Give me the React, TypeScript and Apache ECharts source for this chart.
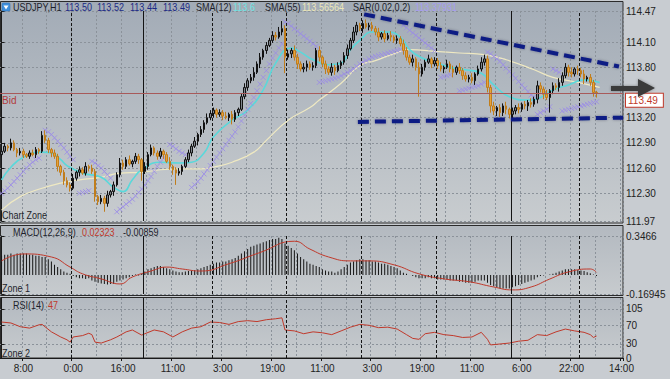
import React, { useEffect, useRef } from 'react';
import * as echarts from 'echarts';

const FONT = "'Liberation Sans', 'DejaVu Sans', Arial, sans-serif";
const SLOTS = 200;
const LABEL_START = 7;
const LABEL_STEP = 16;
const GRID_STEP = 8;

const timeLabels = ['8:00', '0:00', '16:00', '11:00', '3:00', '19:00', '11:00', '3:00', '19:00', '11:00', '6:00', '22:00', '14:00'];

const firstOpen = 112.76;
const closes = [
  112.80, 112.86, 112.84, 112.90, 112.82, 112.78, 112.80, 112.76, 112.74, 112.78,
  112.76, 112.82, 112.80, 112.99, 112.93, 112.82, 112.78, 112.74, 112.62, 112.55,
  112.45, 112.40, 112.36, 112.48, 112.55, 112.58, 112.54, 112.62, 112.60, 112.56,
  112.26, 112.20, 112.24, 112.18, 112.28, 112.32, 112.40, 112.52, 112.66, 112.62,
  112.70, 112.65, 112.68, 112.74, 112.70, 112.56, 112.62, 112.76, 112.84, 112.78,
  112.74, 112.80, 112.76, 112.68, 112.62, 112.58, 112.54, 112.56, 112.62, 112.70,
  112.78, 112.86, 112.92, 113.00, 113.06, 113.14, 113.20, 113.25, 113.29, 113.24,
  113.26, 113.22, 113.20, 113.24, 113.18, 113.26, 113.30, 113.45, 113.56, 113.64,
  113.68, 113.74, 113.84, 113.92, 114.00, 114.06, 114.12, 114.18, 114.16, 114.22,
  114.26, 113.92, 113.96, 114.00, 113.92, 113.84, 113.78, 113.80, 113.84, 113.80,
  113.82, 114.00, 113.92, 113.84, 113.78, 113.74, 113.80, 113.76, 113.82, 113.86,
  113.94, 114.02, 114.12, 114.22, 114.30, 114.26, 114.32, 114.28, 114.30, 114.26,
  114.22, 114.16, 114.20, 114.14, 114.18, 114.16, 114.12, 114.14, 114.08, 114.00,
  113.92, 113.86, 113.90, 113.80, 113.72, 113.80, 113.86, 113.90, 113.84, 113.88,
  113.82, 113.78, 113.80, 113.84, 113.78, 113.74, 113.80, 113.76, 113.70, 113.66,
  113.68, 113.64, 113.72, 113.78, 113.86, 113.90, 113.56, 113.34, 113.28, 113.32,
  113.26, 113.34, 113.30, 113.24, 113.28, 113.32, 113.30, 113.36, 113.34, 113.38,
  113.36, 113.42, 113.58, 113.54, 113.48, 113.44, 113.52, 113.58, 113.56, 113.62,
  113.70, 113.80, 113.74, 113.72, 113.78, 113.76, 113.72, 113.66, 113.68, 113.62,
  113.50, 113.49,
];
// wick sizes in pips (0.01)
const wickUp = [
  3, 4, 2, 5, 3, 2, 4, 3, 2, 3,
  4, 3, 2, 5, 6, 3, 2, 4, 3, 2,
  3, 4, 3, 5, 2, 4, 3, 5, 2, 4,
  3, 2, 4, 3, 5, 2, 4, 3, 6, 4,
  3, 5, 2, 4, 3, 2, 5, 3, 4, 2,
  3, 4, 2, 3, 5, 2, 3, 4, 2, 3,
  4, 3, 5, 2, 4, 3, 5, 4, 3, 2,
  4, 3, 5, 2, 4, 3, 2, 4, 5, 3,
  4, 6, 3, 5, 2, 4, 3, 5, 4, 6,
  9, 4, 5, 3, 6, 4, 3, 5, 4, 3,
  4, 3, 5, 2, 4, 3, 5, 3, 4, 2,
  4, 5, 3, 6, 4, 3, 4, 5, 3, 4,
  3, 5, 2, 4, 3, 5, 2, 4, 3, 5,
  4, 3, 5, 2, 6, 4, 3, 5, 2, 4,
  3, 4, 2, 5, 3, 4, 2, 5, 3, 4,
  3, 5, 2, 4, 6, 5, 4, 3, 5, 2,
  4, 3, 5, 2, 4, 3, 5, 2, 4, 3,
  5, 3, 6, 4, 3, 5, 2, 4, 3, 5,
  4, 5, 3, 6, 2, 4, 3, 5, 2, 4,
  3, 2,
];
const wickDown = [
  3, 2, 4, 3, 2, 5, 3, 4, 2, 3,
  2, 4, 3, 2, 3, 4, 5, 3, 6, 4,
  5, 3, 4, 2, 3, 5, 2, 3, 4, 3,
  6, 4, 3, 10, 4, 3, 5, 2, 3, 4,
  3, 2, 4, 3, 5, 11, 3, 4, 2, 3,
  4, 3, 5, 2, 4, 6, 14, 3, 4, 2,
  3, 4, 2, 5, 3, 4, 2, 3, 5, 4,
  3, 5, 2, 4, 6, 3, 4, 2, 3, 4,
  3, 4, 2, 5, 3, 4, 2, 3, 4, 2,
  4, 19, 3, 5, 4, 6, 3, 4, 5, 3,
  4, 3, 5, 4, 6, 3, 4, 5, 2, 4,
  3, 4, 2, 3, 4, 3, 5, 2, 4, 3,
  4, 5, 3, 4, 2, 5, 3, 4, 3, 5,
  4, 3, 5, 4, 27, 3, 4, 2, 5, 3,
  4, 3, 5, 2, 4, 6, 3, 4, 5, 3,
  4, 3, 5, 2, 3, 4, 6, 8, 5, 6,
  5, 4, 6, 5, 7, 4, 5, 3, 4, 6,
  4, 3, 5, 4, 6, 3, 18, 4, 3, 5,
  4, 3, 5, 4, 3, 5, 4, 6, 3, 4,
  5, 5,
];

const sma12 = [
  [0, 112.46], [3, 112.61], [7, 112.73], [13, 112.79], [16, 112.78], [19, 112.70], [21, 112.63], [26, 112.54],
  [32, 112.49], [36, 112.37], [39, 112.32], [42, 112.46], [45, 112.58], [51, 112.67], [57, 112.66], [61, 112.67],
  [65, 112.78], [68, 112.97], [74, 113.17], [79, 113.29], [84, 113.53], [88, 113.85], [93, 114.03], [96, 113.98],
  [100, 113.89], [105, 113.83], [109, 113.85], [112, 114.01], [115, 114.12], [119, 114.22], [124, 114.22],
  [128, 114.16], [131, 114.01], [135, 113.91], [140, 113.85], [144, 113.80], [149, 113.77], [154, 113.73],
  [158, 113.59], [163, 113.45], [169, 113.41], [173, 113.44], [177, 113.53], [182, 113.59], [187, 113.65], [192, 113.62],
];
const sma55 = [
  [0, 112.10], [6, 112.26], [13, 112.36], [19, 112.42], [25, 112.46], [32, 112.49], [38, 112.54], [45, 112.55],
  [51, 112.58], [57, 112.59], [64, 112.59], [68, 112.61], [74, 112.67], [81, 112.79], [85, 112.93], [92, 113.17],
  [99, 113.32], [102, 113.41], [109, 113.61], [115, 113.82], [120, 113.88], [126, 113.96], [131, 114.01],
  [139, 113.99], [147, 113.97], [155, 113.95], [162, 113.89], [171, 113.77], [177, 113.68], [185, 113.62], [192, 113.56],
];
// parabolic SAR: [first bar index, values per bar]
const sarSegments: [number, number[]][] = [
  [0, [112.30, 112.33, 112.36, 112.40, 112.44, 112.48, 112.52, 112.56, 112.60, 112.64, 112.67, 112.70, 112.72]],
  [14, [113.05, 113.03, 113.00, 112.96, 112.92, 112.88, 112.84, 112.79, 112.74, 112.70]],
  [25, [112.30, 112.31, 112.32, 112.33]],
  [29, [112.68, 112.66, 112.63, 112.60, 112.56, 112.52, 112.48]],
  [37, [112.08, 112.11, 112.14, 112.17, 112.20, 112.23, 112.27, 112.31, 112.35, 112.40, 112.45, 112.50, 112.56, 112.62, 112.67, 112.72]],
  [54, [112.88, 112.86, 112.83, 112.80, 112.78, 112.76]],
  [61, [112.37, 112.40, 112.44, 112.48, 112.53, 112.58, 112.63, 112.68, 112.73, 112.78, 112.83, 112.88, 112.93, 112.98, 113.03,
    113.09, 113.16, 113.23, 113.30, 113.37, 113.44, 113.52, 113.60, 113.68, 113.76, 113.84, 113.91, 113.97, 114.03, 114.08]],
  [91, [114.34, 114.32, 114.29, 114.26, 114.23, 114.20, 114.17, 114.14, 114.11, 114.08, 114.05]],
  [102, [113.62, 113.63, 113.64, 113.65, 113.66, 113.67, 113.68, 113.70, 113.72, 113.74, 113.76, 113.78, 113.81, 113.84,
    113.86, 113.88, 113.90, 113.92, 113.93, 113.94, 113.95, 113.96, 113.97, 113.98, 113.99, 114.00, 114.01]],
  [129, [114.30, 114.27, 114.24, 114.21, 114.18, 114.15, 114.12, 114.09, 114.06, 114.03, 114.00]],
  [141, [113.68, 113.69, 113.70, 113.71]],
  [147, [113.52, 113.53, 113.54, 113.55, 113.56, 113.57, 113.58, 113.60, 113.62]],
  [156, [113.98, 113.96, 113.93, 113.90, 113.87, 113.83, 113.79, 113.75, 113.71, 113.67, 113.63, 113.59, 113.55, 113.51, 113.47, 113.45]],
  [172, [113.24, 113.26, 113.28, 113.30, 113.33]],
  [177, [113.78, 113.76, 113.74]],
  [180, [113.28, 113.29, 113.30, 113.31, 113.32, 113.33, 113.34, 113.35, 113.36, 113.37, 113.38, 113.39]],
];

const macdHist = [
  0.17, 0.18, 0.18, 0.19, 0.18, 0.19, 0.19, 0.19, 0.19, 0.18, 0.18,
  0.17, 0.17, 0.16, 0.16, 0.14, 0.12, 0.09, 0.07, 0.05, 0.03, 0.02, 0.01,
  -0.01, -0.02, -0.03, -0.03, -0.035, -0.03, -0.05, -0.06, -0.07, -0.075,
  -0.08, -0.085, -0.08, -0.08, -0.06, -0.05, -0.04, -0.03, -0.02, -0.01,
  0.005, -0.005, 0.01, 0.03, 0.05, 0.06, 0.07, 0.08, 0.08, 0.07, 0.06,
  0.05, 0.04, 0.03, 0.025, 0.025, 0.03, 0.035, 0.04, 0.045, 0.05, 0.06, 0.07,
  0.08, 0.09, 0.10, 0.11, 0.11, 0.12, 0.12, 0.13, 0.14, 0.15, 0.17, 0.19,
  0.21, 0.23, 0.25, 0.26, 0.27, 0.28, 0.29, 0.30, 0.31, 0.32, 0.32, 0.33, 0.32,
  0.28, 0.26, 0.24, 0.22, 0.19, 0.16, 0.14, 0.12, 0.10, 0.09, 0.08, 0.07,
  0.05, 0.04, 0.03, 0.03, 0.02, 0.03, 0.05, 0.07, 0.09, 0.11, 0.12, 0.13,
  0.14, 0.14, 0.13, 0.13, 0.12, 0.12, 0.11, 0.10, 0.10, 0.09, 0.08, 0.07,
  0.06, 0.04, 0.02, 0.01, 0.0, -0.01, -0.02, -0.03, -0.03, -0.03, -0.02, -0.03,
  -0.03, -0.04, -0.04, -0.04, -0.04, -0.05, -0.05, -0.05, -0.06, -0.06, -0.07, -0.07,
  -0.07, -0.06, -0.05, -0.05, -0.05, -0.07, -0.09, -0.10, -0.11, -0.12, -0.12, -0.12,
  -0.12, -0.11, -0.10, -0.09, -0.08, -0.07, -0.06, -0.05, -0.04, -0.02, -0.01, -0.005,
  0.0, 0.005, 0.01, 0.02, 0.03, 0.04, 0.05, 0.05, 0.05, 0.05, 0.045, 0.04,
  0.035, 0.025, 0.015, 0.005, -0.009,
];
const macdSignal = [
  [0, 0.125], [7, 0.187], [16, 0.16], [22, 0.07], [26, 0.01], [32, -0.035], [38, -0.08], [42, -0.018],
  [48, 0.035], [53, 0.07], [58, 0.053], [64, 0.035], [73, 0.10], [83, 0.20], [94, 0.30], [99, 0.23],
  [105, 0.16], [112, 0.125], [118, 0.125], [126, 0.09], [134, 0.01], [142, -0.035], [150, -0.06],
  [158, -0.107], [164, -0.133], [170, -0.107], [176, -0.036], [182, 0.027], [189, 0.053], [191, 0.023],
];
const rsi = [
  [0, 77], [3, 75], [6, 67], [9, 64], [12, 71], [13, 72], [16, 56], [19, 45], [21, 39], [22, 34], [23, 45],
  [26, 48], [28, 53], [29, 50], [30, 34], [32, 32], [35, 39], [37, 45], [40, 56], [42, 60], [45, 49], [46, 52],
  [49, 60], [52, 56], [55, 45], [58, 56], [61, 64], [64, 67], [67, 77], [70, 76], [73, 72], [76, 78], [79, 80],
  [82, 78], [85, 82], [88, 84], [90, 86], [91, 60], [94, 58], [97, 52], [100, 56], [103, 54], [106, 50],
  [109, 58], [112, 66], [115, 72], [118, 70], [121, 65], [124, 66], [127, 62], [130, 50], [132, 42], [134, 40],
  [136, 52], [139, 55], [142, 50], [145, 48], [148, 44], [151, 45], [154, 55], [156, 40], [157, 28], [160, 30],
  [163, 32], [166, 36], [169, 38], [172, 50], [175, 48], [178, 56], [181, 62], [184, 58], [187, 55], [189, 50],
  [190, 44], [191, 47],
];

const priceTicks = [111.97, 112.30, 112.60, 112.90, 113.20, 113.80, 114.10, 114.47];
const macdTicks = [-0.16945, 0.3466];
const rsiTicks = [0, 30, 70, 105];
const bidPrice = 113.49;
const daySeparators = [22.5, 67.5, 91.5, 115.5, 139.5, 185.5];
const weekSeparators = [45.5, 163.5];
const upperTrend = [[116.4, 114.43], [198.2, 113.81]];
const lowerTrend = [[114.4, 113.15], [199.5, 113.20]];

const headerItems: [number, string, string][] = [
  [13, 'USDJPY,H1', '#1d1f2b'],
  [65, '113.50', '#1c2a85'],
  [97, '113.52', '#1c2a85'],
  [130, '113.44', '#1c2a85'],
  [163, '113.49', '#1c2a85'],
  [196, 'SMA(12)', '#1d1f2b'],
  [233, '113.6', '#6fe3e3'],
  [265, 'SMA(55)', '#1d1f2b'],
  [302, '113.56564', '#ece7b8'],
  [353, 'SAR(0.02,0.2)', '#1d1f2b'],
  [415, '113.37931', '#a79df0'],
];

export default function App() {
  const ref = useRef<HTMLDivElement>(null);
  useEffect(() => {
    if (!ref.current) return;
    const chart = echarts.init(ref.current, undefined, { renderer: 'svg' });

    const categories = Array.from({ length: SLOTS }, (_, i) => String(i));
    const labelInterval = (index: number) => index >= LABEL_START && (index - LABEL_START) % LABEL_STEP === 0;
    const gridInterval = (index: number) => index >= LABEL_START && (index - LABEL_START) % GRID_STEP === 0;

    const candles = closes.map((c, i) => {
      const o = i === 0 ? firstOpen : closes[i - 1];
      const hi = Math.max(o, c) + wickUp[i] / 100;
      const lo = Math.min(o, c) - wickDown[i] / 100;
      return [o, c, lo, hi];
    });
    const sarData = sarSegments.flatMap(([start, vals]) => vals.map((v, k) => [start + k, v]));

    const gridLine = { color: '#8b929a', type: [2, 2] as number[], width: 1 };
    const catAxis = (gi: number, bottom: boolean) => ({
      type: 'category',
      gridIndex: gi,
      data: categories,
      boundaryGap: true,
      axisLine: { show: bottom, lineStyle: { color: '#1a1a1a' } },
      axisTick: { show: bottom, interval: labelInterval, length: 3, lineStyle: { color: '#1a1a1a' } },
      axisLabel: {
        show: bottom,
        interval: labelInterval,
        color: '#222',
        fontSize: 10,
        margin: 5,
        fontFamily: FONT,
        formatter: (_v: string, index: number) => timeLabels[(index - LABEL_START) / LABEL_STEP] ?? '',
      },
      splitLine: { show: true, interval: gridInterval, lineStyle: gridLine },
    });
    const valAxis = (gi: number) => ({ type: 'value', gridIndex: gi, min: -0.5, max: SLOTS - 0.5, show: false });
    const yAx = (gi: number, min: number, max: number, ticks: number[], fmt: (v: number) => string) => ({
      type: 'value',
      gridIndex: gi,
      position: 'right',
      min,
      max,
      axisLine: { show: true, lineStyle: { color: '#1a1a1a' } },
      axisTick: { show: true, length: 3, customValues: ticks, lineStyle: { color: '#1a1a1a' } },
      axisLabel: { customValues: ticks, formatter: fmt, color: '#222', fontSize: 10, margin: 3, fontFamily: FONT },
      splitLine: { show: true, lineStyle: gridLine },
    });

    const sepLines = {
      silent: true,
      symbol: 'none',
      label: { show: false },
      emphasis: { disabled: true },
      data: [
        ...daySeparators.map((x) => ({ xAxis: x, lineStyle: { color: '#141414', type: [3, 2], width: 1 } })),
        ...weekSeparators.map((x) => ({ xAxis: x, lineStyle: { color: '#141414', type: 'solid', width: 1 } })),
      ],
    };

    const grad = (a: string, b: string) => ({
      type: 'linear', x: 0, y: 0, x2: 0, y2: 1,
      colorStops: [{ offset: 0, color: a }, { offset: 1, color: b }],
    });
    const txt = (x: number, y: number, text: string, fill: string) => ({
      type: 'text', x, y, z: 20, scaleX: 0.86, silent: true,
      style: { text, fill, fontSize: 10.5, fontFamily: FONT, verticalAlign: 'middle', align: 'left' },
    });

    const option: any = {
      animation: false,
      backgroundColor: '#c8ccd1',
      textStyle: { fontFamily: FONT },
      grid: [
        { left: 0, width: 623, top: 11, height: 210 },
        { left: 0, width: 623, top: 236, height: 58 },
        { left: 0, width: 623, top: 298, height: 60 },
      ],
      xAxis: [catAxis(0, false), catAxis(1, false), catAxis(2, true), valAxis(0), valAxis(1), valAxis(2)],
      yAxis: [
        yAx(0, 111.97, 114.47, priceTicks, (v) => v.toFixed(2)),
        yAx(1, -0.16945, 0.3466, macdTicks, (v) => String(v)),
        yAx(2, 0, 128.5, rsiTicks, (v) => String(v)),
      ],
      series: [
        {
          type: 'line', xAxisIndex: 3, yAxisIndex: 0, data: sma55, smooth: true, symbol: 'none', silent: true,
          lineStyle: { color: '#efe9c2', width: 1.2 }, markLine: sepLines, z: 1,
        },
        {
          type: 'line', xAxisIndex: 3, yAxisIndex: 0, data: sma12, smooth: true, symbol: 'none', silent: true,
          lineStyle: { color: '#5ad8da', width: 1.6 }, z: 3,
        },
        {
          type: 'scatter', xAxisIndex: 3, yAxisIndex: 0, data: sarData, silent: true,
          symbol: 'path://M0 0L8 8M8 0L0 8', symbolSize: 5,
          itemStyle: { color: 'transparent', borderColor: '#9a8ae8', borderWidth: 1, opacity: 0.8 }, z: 3,
        },
        {
          type: 'candlestick', xAxisIndex: 0, yAxisIndex: 0, data: candles, barWidth: 2, silent: true,
          itemStyle: { color: '#7f858d', color0: '#e8a33a', borderColor: '#111', borderColor0: '#c07d1c', borderWidth: 1 },
          z: 4,
          markLine: {
            silent: true, symbol: 'none',
            data: [
              {
                yAxis: bidPrice,
                lineStyle: { color: '#a85a5a', width: 1, type: 'solid' },
                label: { show: true, position: 'insideStartBottom', formatter: 'Bid', color: '#b23a3a', fontSize: 10, fontFamily: FONT, distance: 2 },
              },
              {
                yAxis: bidPrice,
                lineStyle: { color: '#a85a5a', width: 1, type: 'solid' },
                label: {
                  show: true, position: 'end', formatter: bidPrice.toFixed(2), color: '#c0392b',
                  backgroundColor: '#ffffff', borderColor: '#c0392b', borderWidth: 1, padding: [2, 5, 1, 2],
                  fontSize: 10, fontFamily: FONT, distance: 3, offset: [0, 7],
                },
              },
            ],
          },
        },
        {
          type: 'line', xAxisIndex: 3, yAxisIndex: 0, data: upperTrend, symbol: 'none', silent: true, z: 6,
          lineStyle: { color: '#101c84', width: 4, type: [11, 6], shadowBlur: 3, shadowColor: 'rgba(0,0,50,0.35)' },
        },
        {
          type: 'line', xAxisIndex: 3, yAxisIndex: 0, data: lowerTrend, symbol: 'none', silent: true, z: 6,
          lineStyle: { color: '#101c84', width: 4, type: [11, 6], shadowBlur: 3, shadowColor: 'rgba(0,0,50,0.35)' },
        },
        {
          type: 'bar', xAxisIndex: 1, yAxisIndex: 1, data: macdHist, barWidth: 1, silent: true,
          itemStyle: { color: '#151515' }, z: 3,
        },
        {
          type: 'line', xAxisIndex: 4, yAxisIndex: 1, data: macdSignal, smooth: true, symbol: 'none', silent: true,
          lineStyle: { color: '#c0392b', width: 1 }, markLine: sepLines, z: 4,
        },
        {
          type: 'line', xAxisIndex: 5, yAxisIndex: 2, data: rsi, symbol: 'none', silent: true,
          lineStyle: { color: '#c0392b', width: 1 }, markLine: sepLines, z: 4,
        },
      ],
      graphic: [
        { type: 'rect', z: -10, silent: true, shape: { x: 0.5, y: 1.5, width: 622.5, height: 221.5 },
          style: { fill: grad('#a2abb6', '#c8cccf'), stroke: '#2b2b2b', lineWidth: 1 } },
        { type: 'rect', z: -10, silent: true, shape: { x: 0.5, y: 225.5, width: 622.5, height: 70 },
          style: { fill: grad('#b3b9c0', '#c7cbce'), stroke: '#2b2b2b', lineWidth: 1 } },
        { type: 'rect', z: -10, silent: true, shape: { x: 0.5, y: 297.5, width: 622.5, height: 60.5 },
          style: { fill: grad('#b3b9c0', '#c7cbce'), stroke: '#2b2b2b', lineWidth: 1 } },
        { type: 'rect', z: 20, silent: true, shape: { x: 2, y: 3, width: 8, height: 8, r: 1 },
          style: { fill: '#3f8fdc', stroke: '#2a6cb0', lineWidth: 0.5 } },
        { type: 'polygon', z: 21, silent: true, shape: { points: [[3.5, 5.5], [8.5, 5.5], [6, 9.5]] },
          style: { fill: '#ffffff' } },
        ...headerItems.map(([x, t, c]) => txt(x, 7, t, c)),
        txt(2, 215, 'Chart Zone', '#1d1f2b'),
        txt(13, 232, 'MACD(12,26,9)', '#1d1f2b'),
        txt(82, 232, '0.02323', '#c0392b'),
        txt(123, 232, '-0.00859', '#1d1f2b'),
        txt(2, 288, 'Zone 1', '#1d1f2b'),
        txt(13, 305, 'RSI(14)', '#1d1f2b'),
        txt(48, 305, '47', '#c0392b'),
        txt(2, 353, 'Zone 2', '#1d1f2b'),
        { type: 'polygon', z: 15, silent: true,
          shape: { points: [[611, 86], [638, 86], [638, 79], [655, 88], [638, 97], [638, 91], [611, 91]] },
          style: { fill: '#3a3a3a', shadowBlur: 3, shadowColor: 'rgba(0,0,0,0.35)' } },
      ],
    };
    chart.setOption(option);
    return () => chart.dispose();
  }, []);
  return <div ref={ref} style={{ position: 'fixed', left: 0, top: 0, width: 670, height: 379 }} />;
}
